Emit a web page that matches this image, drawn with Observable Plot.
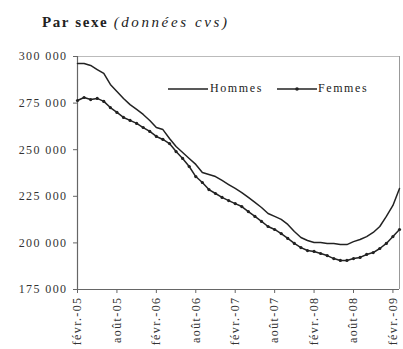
<!DOCTYPE html>
<html><head><meta charset="utf-8">
<script src="https://cdn.jsdelivr.net/npm/d3@7"></script>
<script src="https://cdn.jsdelivr.net/npm/@observablehq/plot@0.6"></script>
<style>
body{margin:0;background:#fff;font-family:"Liberation Serif","DejaVu Serif",serif;}
#wrap{position:relative;width:403px;height:349px;}
#title{position:absolute;left:42px;top:14px;font-size:15px;color:#222;letter-spacing:1.6px;white-space:nowrap;}
#title b{font-weight:bold}
#title i{font-style:italic;font-weight:normal;letter-spacing:2.6px}
#legend{position:absolute;left:168px;top:81px;font-size:12px;color:#222;display:flex;align-items:center;letter-spacing:1.6px;white-space:nowrap;}
#chart{position:absolute;left:0;top:40px;}
#chart svg text{letter-spacing:1.4px}
</style></head>
<body>
<div id="wrap">
<div id="title"><b>Par sexe</b> <i>(données cvs)</i></div>
<div id="chart"></div>
<div id="legend">
<svg width="40" height="12"><line x1="0" y1="6" x2="40" y2="6" stroke="#222" stroke-width="1.5"/></svg><span style="margin-left:2px;margin-right:14px">Hommes</span>
<svg width="40" height="12"><line x1="0" y1="6" x2="40" y2="6" stroke="#222" stroke-width="1.5"/><circle cx="20" cy="6" r="1.8" fill="#222"/></svg><span style="margin-left:1px">Femmes</span>
</div>
</div>
<script>
const seriesNames = ["Hommes", "Femmes"];
const hommes = [296200,296200,295200,293000,290900,285000,281200,277500,274200,271600,268900,265700,261900,260800,256000,251700,248500,245300,242100,237800,236700,235600,233500,231300,229200,227000,224400,221700,219000,215800,214200,212600,209900,206100,202900,201300,200200,200200,199700,199700,199100,199100,200700,201800,203400,205600,208800,214200,220100,229200];
const femmes = [276400,278000,276900,277500,275900,272600,270000,267300,265700,264100,261900,259800,257100,255500,253300,249000,245300,241000,235600,232400,228600,226500,224400,222700,221100,219500,216800,214200,211500,208800,207200,205000,202400,199700,197500,195900,195400,194300,193200,191600,190600,190600,191600,192200,193800,194800,197000,199700,203400,207200];
const tickLabels = ["févr.-05","août-05","févr.-06","août-06","févr.-07","août-07","févr.-08","août-08","févr.-09"];
const tickMonths = [0,6,12,18,24,30,36,42,48];
const yTicks = [175000,200000,225000,250000,275000,300000];

const data = [];
hommes.forEach((v,i)=>data.push({m:i,v,s:seriesNames[0]}));
femmes.forEach((v,i)=>data.push({m:i,v,s:seriesNames[1]}));
const fem = data.filter(d=>d.s==="Femmes");
const hom = data.filter(d=>d.s==="Hommes");
const fmt = v => d3.format(",")(v).replace(/,/g," ");

const chart = Plot.plot({
  width: 403, height: 309,
  marginLeft: 77, marginRight: 4, marginTop: 16, marginBottom: 60,
  style: {fontFamily: '"Liberation Serif","DejaVu Serif",serif', fontSize: "12px", color: "#333", background: "#fff"},
  x: {domain: [0, hommes.length - 1]},
  y: {domain: [175000, 300000]},
  marks: [
    Plot.ruleY([300000], {stroke: "#bbb", strokeWidth: 1}),
    Plot.ruleX([hommes.length - 1], {stroke: "#999", strokeWidth: 1}),
    Plot.axisY({ticks: yTicks, tickFormat: fmt, tickSize: 4, tickPadding: 6, label: null, stroke: "#666"}),
    Plot.axisX({ticks: tickMonths, tickFormat: d => tickLabels[tickMonths.indexOf(d)], tickRotate: -90, tickSize: 4, tickPadding: 3, label: null, stroke: "#666"}),
    Plot.ruleX([0], {stroke: "#666", strokeWidth: 1.2}),
    Plot.ruleY([175000], {stroke: "#666", strokeWidth: 1.2}),
    Plot.line(hom, {x: "m", y: "v", stroke: "#222", strokeWidth: 1.5}),
    Plot.line(fem, {x: "m", y: "v", stroke: "#222", strokeWidth: 1.5}),
    Plot.dot(fem, {x: "m", y: "v", r: 1.6, fill: "#222", stroke: "none"})
  ]
});
document.getElementById("chart").appendChild(chart);
</script>
</body></html>
